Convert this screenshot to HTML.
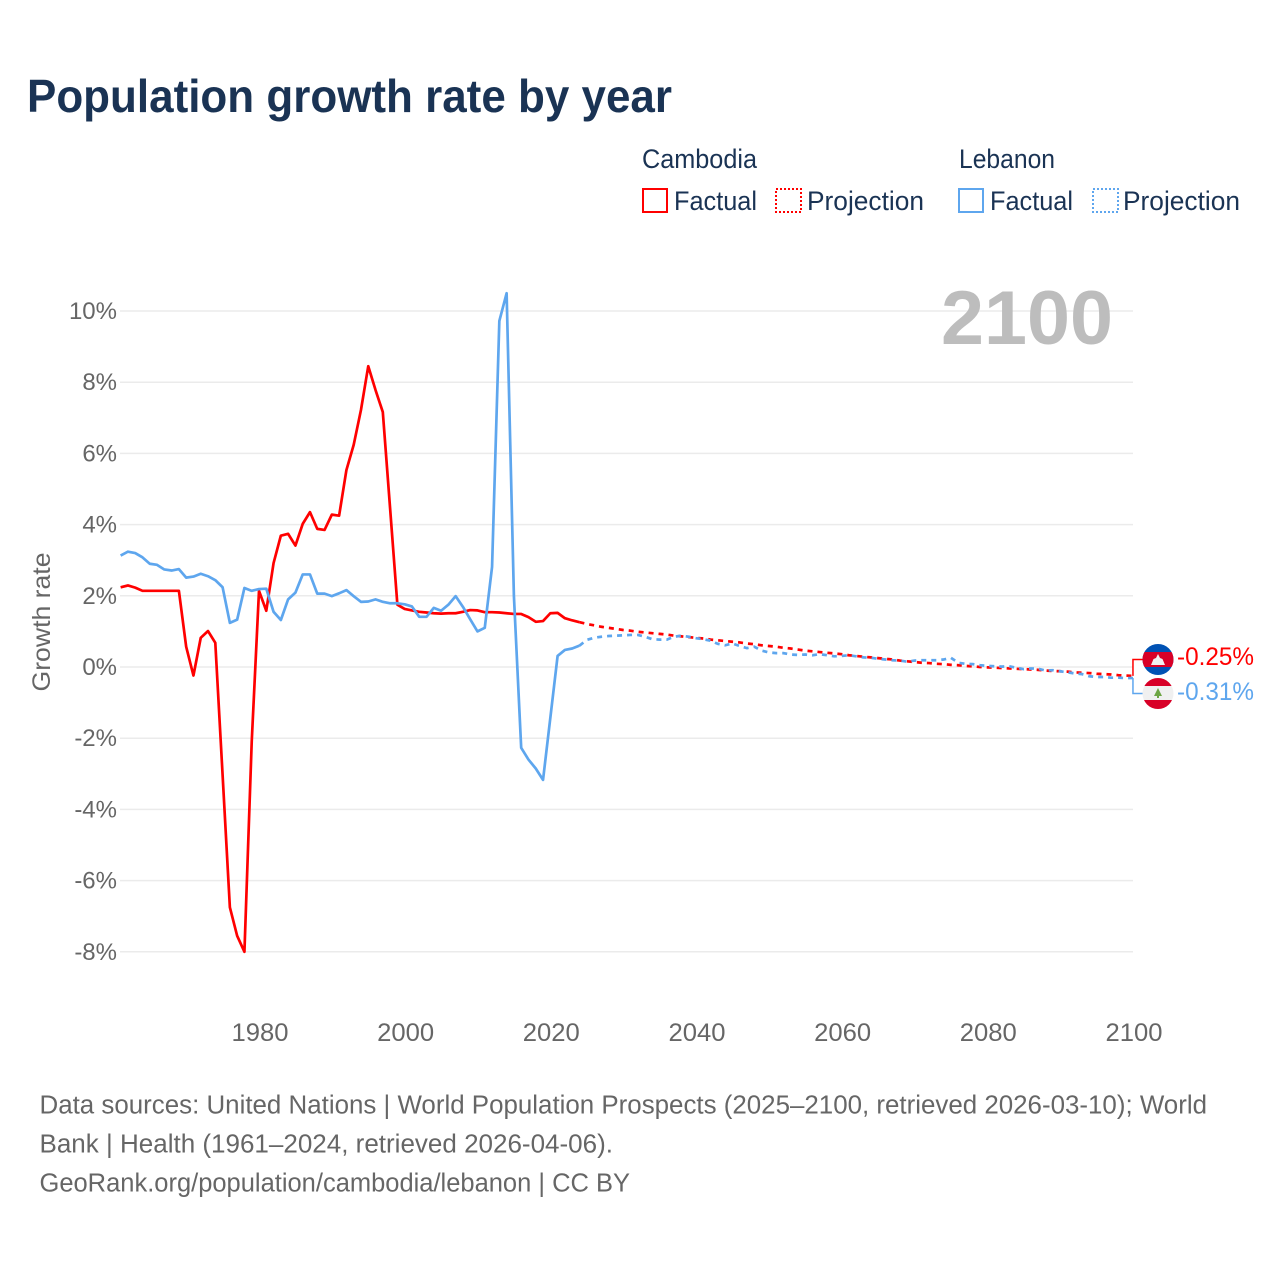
<!DOCTYPE html>
<html lang="en">
<head>
<meta charset="utf-8">
<title>Population growth rate by year</title>
<style>
html,body{margin:0;padding:0;background:#fff;width:1280px;height:1280px;overflow:hidden}
svg{display:block}
text{font-family:"Liberation Sans",sans-serif}
</style>
</head>
<body>
<svg id="chart" width="1280" height="1280" viewBox="0 0 1280 1280" xmlns="http://www.w3.org/2000/svg">
  <text x="27" y="112" font-size="46" font-weight="700" fill="#1a3354" textLength="645" lengthAdjust="spacingAndGlyphs">Population growth rate by year</text>

  <g fill="#1a3354" font-size="26.500">
    <text x="642" y="168" textLength="115" lengthAdjust="spacingAndGlyphs">Cambodia</text>
    <text x="959" y="168" textLength="96" lengthAdjust="spacingAndGlyphs">Lebanon</text>
    <rect x="643" y="189" width="24" height="23" fill="none" stroke="#ff0000" stroke-width="2"/>
    <text x="674" y="210" textLength="83" lengthAdjust="spacingAndGlyphs">Factual</text>
    <rect x="776" y="189" width="25" height="23" fill="none" stroke="#ff0000" stroke-width="2" stroke-dasharray="2 2"/>
    <text x="807" y="210" textLength="117" lengthAdjust="spacingAndGlyphs">Projection</text>
    <rect x="959" y="189" width="24" height="23" fill="none" stroke="#5ea6ee" stroke-width="2"/>
    <text x="990" y="210" textLength="83" lengthAdjust="spacingAndGlyphs">Factual</text>
    <rect x="1093" y="189" width="25" height="23" fill="none" stroke="#5ea6ee" stroke-width="2" stroke-dasharray="2 2"/>
    <text x="1123" y="210" textLength="117" lengthAdjust="spacingAndGlyphs">Projection</text>
  </g>

  <g id="grid"></g>
  <text x="941" y="344" font-size="76" font-weight="700" fill="#bdbdbd" textLength="172" lengthAdjust="spacingAndGlyphs">2100</text>
  <g id="y-axis"></g>
  <g id="x-axis"></g>
  <text transform="translate(50 622) rotate(-90)" text-anchor="middle" font-size="25" fill="#666666" textLength="139" lengthAdjust="spacingAndGlyphs">Growth rate</text>
  <g id="series"></g>
  <g id="end-markers"></g>

  <g>
    <clipPath id="clip-kh"><circle cx="1158" cy="659.5" r="15.5"/></clipPath>
    <g clip-path="url(#clip-kh)">
      <rect x="1142" y="643" width="32" height="33" fill="#0052b4"/>
      <rect x="1142" y="652" width="32" height="15" fill="#d80027"/>
      <polygon points="1151,665 1153.5,659 1156,658 1158,654 1160,658 1162.500,659 1165,665" fill="#f0f0f0"/>
    </g>
  </g>
  <g>
    <clipPath id="clip-lb"><circle cx="1158" cy="693.500" r="15.500"/></clipPath>
    <g clip-path="url(#clip-lb)">
      <rect x="1142" y="677" width="32" height="33" fill="#f0f0f0"/>
      <rect x="1142" y="677" width="32" height="9" fill="#d80027"/>
      <rect x="1142" y="700" width="32" height="10" fill="#d80027"/>
      <polygon points="1158,688 1162,696 1159,696 1159,698 1157,698 1157,696 1154,696" fill="#6da544"/>
    </g>
  </g>

  <g font-size="25.500" fill="#666666">
    <text x="39.500" y="1113.500" textLength="1167.500" lengthAdjust="spacingAndGlyphs">Data sources: United Nations | World Population Prospects (2025–2100, retrieved 2026-03-10); World</text>
    <text x="39.500" y="1152.500" textLength="573.500" lengthAdjust="spacingAndGlyphs">Bank | Health (1961–2024, retrieved 2026-04-06).</text>
    <text x="39.500" y="1191.500" textLength="590.500" lengthAdjust="spacingAndGlyphs">GeoRank.org/population/cambodia/lebanon | CC BY</text>
  </g>
</svg>
<script>
const xTickYears = [1980, 2000, 2020, 2040, 2060, 2080, 2100];
const yTickValues = [10, 8, 6, 4, 2, 0, -2, -4, -6, -8];
const firstFactualYear = 1961;
const firstProjectionYear = 2025;
const cambodiaFactual = [
  2.24,2.29,2.23,2.14,2.14,2.14,2.14,2.14,2.14,0.57,
  -0.24,0.82,1.01,0.68,-3.03,-6.75,-7.55,-8.0,-2.1,2.14,
  1.58,2.92,3.69,3.74,3.41,4.02,4.35,3.88,3.85,4.28,
  4.25,5.53,6.24,7.22,8.45,7.78,7.16,4.46,1.75,1.63,
  1.59,1.55,1.53,1.51,1.50,1.51,1.51,1.55,1.60,1.59,
  1.54,1.54,1.53,1.51,1.49,1.49,1.40,1.27,1.29,1.51,
  1.52,1.37,1.31,1.26
];
const cambodiaProjection = [
  1.21,1.17,1.13,1.10,1.07,1.04,
  1.02,0.99,0.97,0.95,0.93,0.91,0.88,0.86,0.84,0.82,
  0.80,0.77,0.75,0.73,0.71,0.69,0.66,0.64,0.61,0.59,
  0.57,0.54,0.52,0.49,0.46,0.44,0.42,0.40,0.38,0.36,
  0.33,0.31,0.29,0.27,0.25,0.23,0.21,0.18,0.16,0.14,
  0.12,0.11,0.09,0.08,0.06,0.05,0.03,0.02,0.00,-0.01,
  -0.02,-0.03,-0.04,-0.05,-0.06,-0.07,-0.08,-0.10,-0.11,-0.12,
  -0.13,-0.15,-0.16,-0.17,-0.19,-0.20,-0.21,-0.23,-0.24,-0.25
];
const lebanonFactual = [
  3.13,3.24,3.20,3.08,2.90,2.87,2.74,2.71,2.75,2.51,
  2.54,2.62,2.55,2.44,2.24,1.24,1.33,2.22,2.14,2.19,
  2.20,1.55,1.32,1.90,2.09,2.60,2.60,2.06,2.06,1.99,
  2.07,2.16,1.99,1.83,1.84,1.90,1.83,1.79,1.79,1.76,
  1.70,1.41,1.41,1.66,1.58,1.75,1.99,1.69,1.34,1.00,
  1.10,2.81,9.72,10.5,2.0,-2.27,-2.6,-2.85,-3.17,-1.43,
  0.31,0.48,0.52,0.60
];
const lebanonProjection = [
  0.76,0.82,0.85,0.87,0.88,0.89,
  0.90,0.90,0.85,0.78,0.77,0.77,0.85,0.88,0.85,0.81,
  0.78,0.74,0.65,0.61,0.66,0.59,0.53,0.57,0.46,0.41,
  0.39,0.39,0.35,0.34,0.35,0.33,0.36,0.33,0.30,0.31,
  0.33,0.30,0.27,0.26,0.23,0.21,0.19,0.18,0.15,0.18,
  0.19,0.19,0.19,0.21,0.26,0.12,0.09,0.08,0.05,0.03,
  0.02,0.01,0.02,-0.02,-0.06,-0.04,-0.05,-0.10,-0.09,-0.12,
  -0.15,-0.18,-0.20,-0.26,-0.28,-0.28,-0.30,-0.30,-0.31,-0.31
];
const endValueLabels = ['-0.25%', '-0.31%'];

const SVGNS = 'http://www.w3.org/2000/svg';
const plotLeft = 120;
const plotRight = 1133;
const lineWidth = 2.7;
function xScale(year) { return 259 + (year - 1980) * 7.283; }
function yScale(value) { return 667 - value * 35.6; }
function make(tag, parent, attrs) {
  const el = document.createElementNS(SVGNS, tag);
  for (const k in attrs) el.setAttribute(k, attrs[k]);
  parent.appendChild(el);
  return el;
}
const gridGroup = document.getElementById('grid');
const yAxisGroup = document.getElementById('y-axis');
const xAxisGroup = document.getElementById('x-axis');
const seriesGroup = document.getElementById('series');
const endGroup = document.getElementById('end-markers');

yTickValues.forEach(function (v) {
  const line = make('line', gridGroup, { x1: plotLeft, x2: plotRight, y1: yScale(v), y2: yScale(v), stroke: '#ebebeb', 'stroke-width': 1.5 });
  
  
  const label = make('text', yAxisGroup, { x: 117, y: yScale(v) + 8, 'text-anchor': 'end', 'font-size': 24, fill: '#666666' });
  label.textContent = v + '%';
  
  
});
xTickYears.forEach(function (year) {
  const label = make('text', xAxisGroup, { x: xScale(year) + 1, y: 1041, 'text-anchor': 'middle', 'font-size': 25, fill: '#666666', textLength: 57, lengthAdjust: 'spacingAndGlyphs' });
  label.textContent = String(year);
  
  
});

function pathFrom(startYear, values) {
  return values.map(function (v, i) {
    return (i ? 'L' : 'M') + xScale(startYear + i).toFixed(2) + ' ' + yScale(v).toFixed(2);
  }).join('');
}
function lastOf(values) { return values[values.length - 1]; }

const cambodiaLine = make('path', seriesGroup, { d: pathFrom(firstFactualYear, cambodiaFactual), fill: 'none', stroke: '#ff0000', 'stroke-width': lineWidth, 'stroke-linejoin': 'round' });


const cambodiaDash = make('path', seriesGroup, { d: pathFrom(firstProjectionYear - 1, [lastOf(cambodiaFactual)].concat(cambodiaProjection)), fill: 'none', stroke: '#ff0000', 'stroke-width': lineWidth, 'stroke-dasharray': '5 5' });


const lebanonLine = make('path', seriesGroup, { d: pathFrom(firstFactualYear, lebanonFactual), fill: 'none', stroke: '#5ea6ee', 'stroke-width': lineWidth, 'stroke-linejoin': 'round' });


const lebanonDash = make('path', seriesGroup, { d: pathFrom(firstProjectionYear - 1, [lastOf(lebanonFactual)].concat(lebanonProjection)), fill: 'none', stroke: '#5ea6ee', 'stroke-width': lineWidth, 'stroke-dasharray': '5 5' });



const endX = xScale(2100);
const cambodiaConnector = make('path', endGroup, { d: 'M' + endX + ' ' + yScale(lastOf(cambodiaProjection)) + 'V659.500H1143', fill: 'none', stroke: '#ff0000', 'stroke-width': 1.5 });


const lebanonConnector = make('path', endGroup, { d: 'M' + endX + ' ' + yScale(lastOf(lebanonProjection)) + 'V693.500H1143', fill: 'none', stroke: '#5ea6ee', 'stroke-width': 1.5 });


const cambodiaEnd = make('text', endGroup, { x: 1177, y: 665, 'font-size': 25, fill: '#ff0000', textLength: 77, lengthAdjust: 'spacingAndGlyphs' });
cambodiaEnd.textContent = endValueLabels[0];


const lebanonEnd = make('text', endGroup, { x: 1177, y: 700, 'font-size': 25, fill: '#5ea6ee', textLength: 77, lengthAdjust: 'spacingAndGlyphs' });
lebanonEnd.textContent = endValueLabels[1];


</script>
</body>
</html>
